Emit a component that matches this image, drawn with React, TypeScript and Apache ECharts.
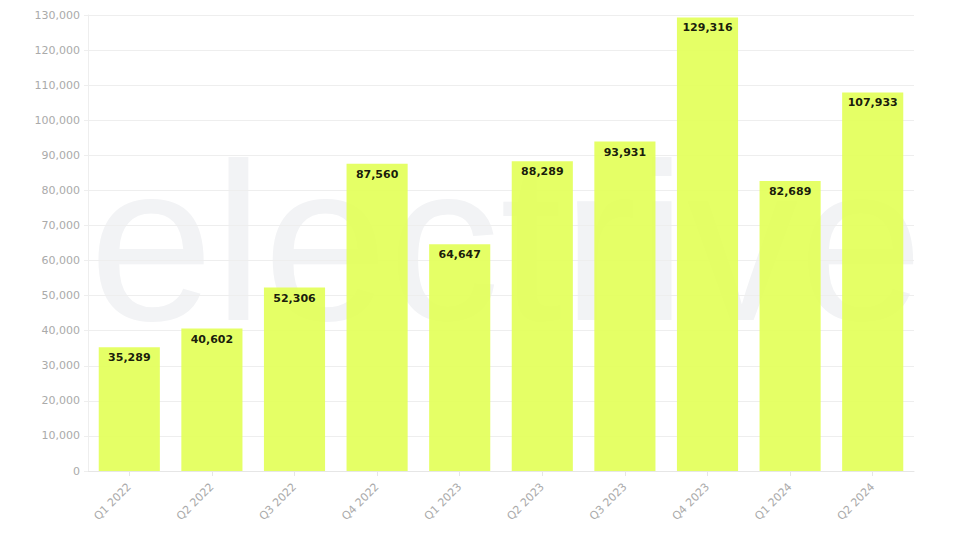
import React, { useEffect, useRef } from "react";
import * as echarts from "echarts";

const categories = ["Q1 2022", "Q2 2022", "Q3 2022", "Q4 2022", "Q1 2023", "Q2 2023", "Q3 2023", "Q4 2023", "Q1 2024", "Q2 2024"];
const values = [35289, 40602, 52306, 87560, 64647, 88289, 93931, 129316, 82689, 107933];
const watermark = "electrive";

export default function App() {
  const ref = useRef<HTMLDivElement>(null);
  useEffect(() => {
    const chart = echarts.init(ref.current!, null, { renderer: "svg" });
    chart.setOption({
      animation: false,
      graphic: [
        {
          type: "text",
          left: 81,
          top: 122,
          z: -10,
          silent: true,
          style: {
            text: watermark,
            fontSize: 224,
            fontFamily: "Liberation Sans, Arial, sans-serif",
            fill: "#f2f3f5",
          },
        },
      ],
      grid: { left: 80, right: 48, top: 7, bottom: 54 },
      xAxis: {
        type: "category",
        data: categories,
        axisLine: { lineStyle: { color: "#e6e6e6" } },
        axisTick: { show: true, alignWithLabel: true, lineStyle: { color: "#e6e6e6" } },
        axisLabel: { rotate: 45, color: "#aaaaaa", fontSize: 11, fontFamily: "DejaVu Sans", margin: 14 },
      },
      yAxis: {
        type: "value",
        min: 0,
        max: 130000,
        interval: 10000,
        axisLine: { show: true, lineStyle: { color: "#eeeeee" } },
        axisTick: { show: true, length: 4, lineStyle: { color: "#eeeeee" } },
        splitLine: { lineStyle: { color: "#eeeeee" } },
        axisLabel: {
          color: "#aaaaaa",
          fontSize: 11,
          fontFamily: "DejaVu Sans",
          formatter: (v: number) => v.toLocaleString("en-US"),
        },
      },
      series: [
        {
          type: "bar",
          data: values,
          barWidth: "74%",
          itemStyle: { color: "#e2ff55", opacity: 0.9 },
          label: {
            show: true,
            position: "insideTop",
            distance: 5,
            color: "#000000",
            fontWeight: "bold",
            fontSize: 11,
            fontFamily: "DejaVu Sans",
            formatter: (p: any) => p.value.toLocaleString("en-US"),
          },
        },
      ],
    });
    return () => chart.dispose();
  }, []);
  return <div ref={ref} style={{ width: 954, height: 517 }} />;
}
